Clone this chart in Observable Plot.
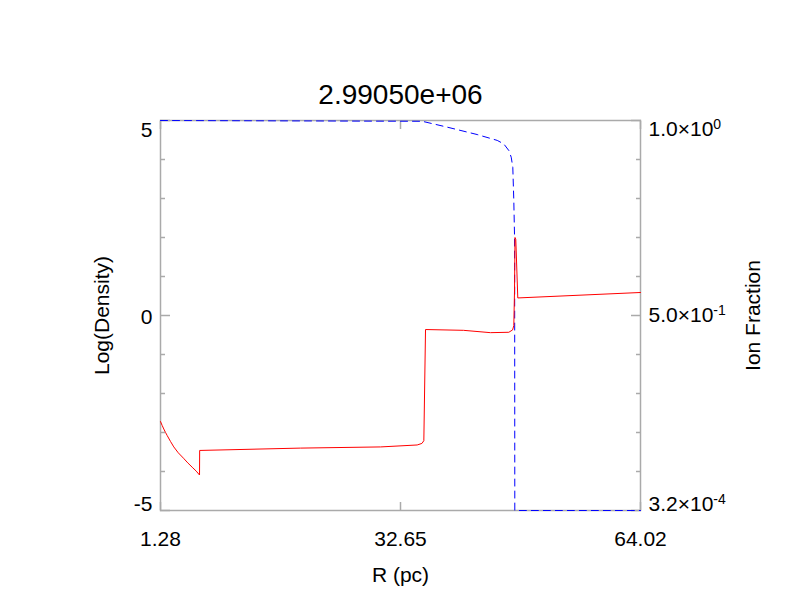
<!DOCTYPE html>
<html>
<head>
<meta charset="utf-8">
<script src="https://cdn.jsdelivr.net/npm/d3@7"></script>
<script src="https://cdn.jsdelivr.net/npm/@observablehq/plot@0.6"></script>
<style>
  body { margin: 0; background: #fff; }
  svg text { font-family: "Liberation Sans", Arial, Helvetica, sans-serif; }
</style>
</head>
<body>
<div id="chart"></div>
<script>
// ---- data ----
const title = "2.99050e+06";
const xLabel = "R (pc)";
const yLabel = "Log(Density)";
const y2Label = "Ion Fraction";

// Log density (red)
const densR = [1.28, 1.50, 1.71, 1.94, 2.16, 2.59, 3.02, 3.60, 4.29, 4.85, 5.42, 5.95, 6.38, 6.40, 19.58, 30.04, 34.83, 35.45, 35.70, 35.92, 40.88, 44.41, 46.81, 47.30, 47.46, 47.55, 47.62, 47.72, 47.98, 64.02];
const densV = [-2.72, -2.82, -2.91, -3.00, -3.08, -3.23, -3.37, -3.52, -3.66, -3.78, -3.89, -3.99, -4.09, -3.46, -3.40, -3.37, -3.32, -3.28, -3.21, -0.36, -0.38, -0.44, -0.43, -0.37, -0.26, 0.60, 2.00, 1.95, 0.45, 0.59];

// Ion fraction (blue dashed)
const ionR = [1.28, 35.49, 38.75, 42.67, 45.29, 46.15, 46.81, 47.12, 47.33, 47.46, 47.55, 47.57, 47.59, 64.02];
const ionV = [1.0, 0.998, 0.983, 0.964, 0.949, 0.940, 0.923, 0.906, 0.880, 0.795, 0.709, 0.624, 0.00032, 0.00032];

// axis ticks
const xTicks = [1.28, 32.65, 64.02];
const yMajor = [-5, 0, 5];
const yMinor = [-4, -3, -2, -1, 1, 2, 3, 4];
const ionTicks = [1.0, 0.5, 0.00032];
const ionMant = ["1.0", "5.0", "3.2"];
const ionExp = ["0", "-1", "-4"];

// ---- build ----
const ionMin = 0.00032, ionMax = 1.0;
const toLeft = f => -5 + 10 * (f - ionMin) / (ionMax - ionMin);

const dens = densR.map((r, i) => ({r, v: densV[i]}));
const ion = ionR.map((r, i) => ({r, v: toLeft(ionV[i])}));
const ionTickPos = ionTicks.map(toLeft);

const gray = "#aaaaaa";
const font = 21;
const ionDy = [9, 0, -6];

const ionAxes = ionTickPos.map((p, i) =>
  Plot.axisY([p], {
    anchor: "right", tickSize: 0, tickPadding: 8, fontSize: font, fill: "#000", label: null,
    dy: ionDy[i], tickFormat: () => ionMant[i] + "\u00d710", className: "ionaxis" + i
  })
);

const plot = Plot.plot({
  width: 800,
  height: 600,
  marginLeft: 160,
  marginRight: 160,
  marginTop: 120,
  marginBottom: 90,
  style: {fontFamily: "Liberation Sans, Arial, Helvetica, sans-serif", background: "#fff"},
  x: {domain: [xTicks[0], xTicks[2]], axis: null, label: null},
  y: {domain: [-5, 5], axis: null, label: null},
  marks: [
    Plot.frame({stroke: gray, strokeWidth: 1.5}),
    // minor y ticks, inward, both sides
    Plot.axisY(yMinor, {anchor: "left", tickSize: 5, dx: 5, tickFormat: () => "", stroke: gray, strokeWidth: 1.5, label: null}),
    Plot.axisY(yMinor, {anchor: "right", tickSize: 5, dx: -5, tickFormat: () => "", stroke: gray, strokeWidth: 1.5, label: null}),
    Plot.axisY(yMajor, {anchor: "left", tickSize: 10, dx: 10, tickFormat: () => "", stroke: gray, strokeWidth: 1.5, label: null}),
    Plot.axisY(yMajor, {anchor: "right", tickSize: 10, dx: -10, tickFormat: () => "", stroke: gray, strokeWidth: 1.5, label: null}),
    // x ticks inward, bottom and top
    Plot.axisX(xTicks, {anchor: "bottom", tickSize: 8, dy: -8, tickFormat: () => "", stroke: gray, strokeWidth: 1.5, label: null}),
    Plot.axisX(xTicks, {anchor: "top", tickSize: 8, dy: 8, tickFormat: () => "", stroke: gray, strokeWidth: 1.5, label: null}),
    // labels
    Plot.axisY([0], {anchor: "left", tickSize: 0, tickPadding: 8, fontSize: font, fill: "#000", dy: 2, label: null}),
    Plot.axisY([5], {anchor: "left", tickSize: 0, tickPadding: 8, fontSize: font, fill: "#000", dy: 10, label: null}),
    Plot.axisY([-5], {anchor: "left", tickSize: 0, tickPadding: 8, fontSize: font, fill: "#000", dy: -6, tickFormat: d => "-5", label: null}),
    ...ionAxes,
    Plot.axisX(xTicks, {anchor: "bottom", tickSize: 0, tickPadding: 21, fontSize: font, fill: "#000", tickFormat: d => d.toFixed(2), label: null}),
    // data
    Plot.line(ion, {x: "r", y: "v", stroke: "#0000ff", strokeWidth: 1, strokeDasharray: "7,5"}),
    Plot.line(dens, {x: "r", y: "v", stroke: "#ff0000", strokeWidth: 1}),
    // titles
    Plot.text([title], {frameAnchor: "top", lineAnchor: "middle", dy: -25, fontSize: 28, fill: "#000"}),
    Plot.text([xLabel], {frameAnchor: "bottom", lineAnchor: "middle", dy: 65, fontSize: font, fill: "#000"}),
    Plot.text([yLabel], {frameAnchor: "left", textAnchor: "middle", lineAnchor: "middle", dx: -58, rotate: -90, fontSize: font, fill: "#000"}),
    Plot.text([y2Label], {frameAnchor: "right", textAnchor: "middle", lineAnchor: "middle", dx: 113, rotate: -90, fontSize: font, fill: "#000"})
  ]
});

document.getElementById("chart").appendChild(plot);

// superscript exponents for ion fraction labels
ionExp.forEach((e, i) => {
  plot.querySelectorAll(".ionaxis" + i + " text").forEach(t => {
    const ts = document.createElementNS("http://www.w3.org/2000/svg", "tspan");
    ts.setAttribute("dy", "-0.55em");
    ts.setAttribute("font-size", "14");
    ts.textContent = e;
    t.appendChild(ts);
  });
});
</script>
</body>
</html>
